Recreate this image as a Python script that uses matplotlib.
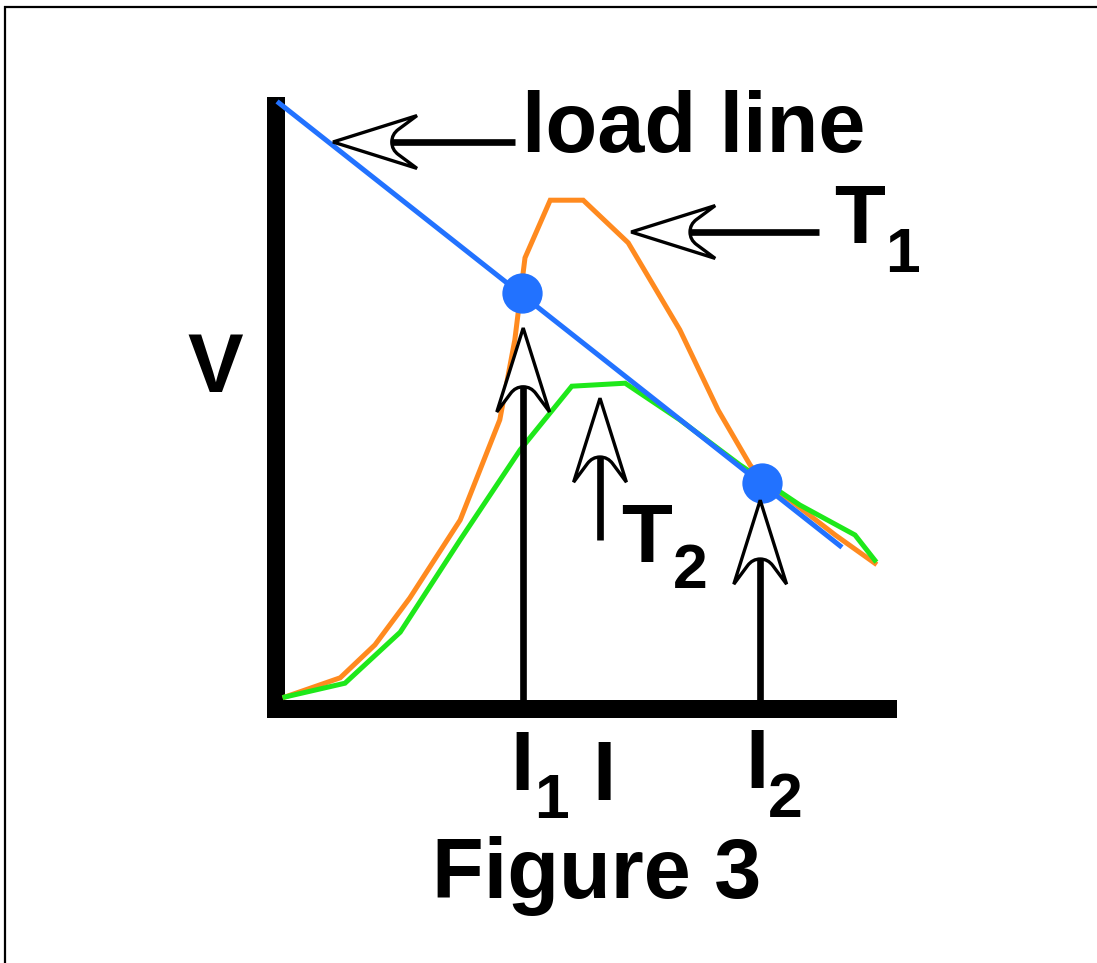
import numpy as np
import matplotlib
matplotlib.use("Agg")
import matplotlib.pyplot as plt
from matplotlib.path import Path
from matplotlib.patches import PathPatch, Rectangle

# ---- data (chart units: current I, voltage V) ----
I_T1 = [0.0, 0.92, 1.5, 2.08, 2.92, 3.58, 3.83, 4.0, 4.42, 4.97, 5.72, 6.58, 7.22, 7.75, 8.0, 8.42, 9.17, 9.83]
V_T1 = [0.05, 0.37, 0.92, 1.7, 3.0, 4.67, 6.0, 7.37, 8.33, 8.33, 7.62, 6.17, 4.83, 3.92, 3.58, 3.33, 2.75, 2.28]

I_T2 = [0.0, 1.0, 1.92, 2.92, 3.92, 4.78, 5.67, 6.58, 7.58, 8.58, 9.5, 9.83]
V_T2 = [0.05, 0.28, 1.13, 2.67, 4.17, 5.23, 5.28, 4.67, 3.92, 3.25, 2.75, 2.33]

I_load = [-0.1, 9.25]
V_load = [9.95, 2.57]

I_op = [3.95, 7.95]
V_op = [6.78, 3.62]

# annotation arrows: (tip_x, tip_y, tail_x, tail_y)
arrow_tips_x = [0.8, 5.77, 3.97, 5.25, 7.92]
arrow_tips_y = [9.3, 7.8, 6.2, 5.03, 3.33]
arrow_tails_x = [3.83, 8.9, 3.97, 5.25, 7.92]
arrow_tails_y = [9.3, 7.8, 0.0, 2.67, 0.0]

BLUE = "#2272ff"
ORANGE = "#ff8a1f"
GREEN = "#1ee81a"
FONT = "Liberation Sans"

fig = plt.figure(figsize=(10.97, 9.63), dpi=100)
ax = fig.add_axes([0, 0, 1, 1])
ax.set_xlim(-285 / 60, (1097 - 285) / 60)
ax.set_ylim(-263 / 60, 700 / 60)
ax.axis("off")

# page border (top and left)
ax.plot([-4.683, 13.6], [11.558, 11.558], color="black", lw=1.6, clip_on=False, solid_capstyle="butt")
ax.plot([-4.667, -4.667], [11.575, -4.5], color="black", lw=1.6, clip_on=False, solid_capstyle="butt")

# thick axes bars
ax.add_patch(Rectangle((-0.3, -0.3), 0.3, 10.35, color="black", lw=0))
ax.add_patch(Rectangle((-0.3, -0.3), 10.5, 0.3, color="black", lw=0))

# curves
ax.plot(I_T1, V_T1, color=ORANGE, lw=3.6, solid_joinstyle="miter", zorder=3)
ax.plot(I_T2, V_T2, color=GREEN, lw=3.6, solid_joinstyle="miter", zorder=3)
ax.plot(I_load, V_load, color=BLUE, lw=3.6, zorder=4)
ax.plot(I_op, V_op, "o", color=BLUE, ms=29, mew=0, zorder=5)

# open arrows
L, W, N = 1.4, 0.44, 0.98
def open_arrow(tx, ty, bx, by):
    d = np.array([bx - tx, by - ty], float)
    d /= np.hypot(*d)
    p = np.array([-d[1], d[0]])
    tip = np.array([tx, ty])
    def P(u, v):
        return tip + u * d + v * p
    notch = P(N, 0)
    ax.plot([notch[0], bx], [notch[1], by], color="black", lw=4.8,
            solid_capstyle="butt", zorder=6)
    verts = [P(0, 0), P(L, W), P(1.09, 0.21), P(N, 0.13), P(N, 0),
             P(N, -0.13), P(1.09, -0.21), P(L, -W), P(0, 0), P(0, 0)]
    codes = [Path.MOVETO, Path.LINETO, Path.LINETO, Path.CURVE3, Path.CURVE3,
             Path.CURVE3, Path.CURVE3, Path.LINETO, Path.LINETO, Path.CLOSEPOLY]
    ax.add_patch(PathPatch(Path(verts, codes), facecolor="white", edgecolor="black",
                           lw=2.4, joinstyle="miter", zorder=7))

for tx, ty, bx, by in zip(arrow_tips_x, arrow_tips_y, arrow_tails_x, arrow_tails_y):
    open_arrow(tx, ty, bx, by)

# texts
tk = dict(fontfamily=FONT, fontweight="bold", color="black", va="baseline", ha="left")
ax.text(3.95, 9.133, "load line", fontsize=61, **tk)
ax.text(9.15, 7.617, "T", fontsize=60, **tk)
ax.text(10.0, 7.133, "1", fontsize=45, **tk)
ax.text(5.6, 2.3, "T", fontsize=60, **tk)
ax.text(6.47, 1.867, "2", fontsize=45, **tk)
ax.text(-1.167, 5.133, "V", fontsize=60, fontfamily=FONT, fontweight="bold",
        va="baseline", ha="center")
ax.text(3.75, -1.5, "I", fontsize=60, **tk)
ax.text(4.15, -1.967, "1", fontsize=45, **tk)
ax.text(5.12, -1.667, "I", fontsize=60, **tk)
ax.text(7.67, -1.467, "I", fontsize=60, **tk)
ax.text(8.05, -1.95, "2", fontsize=45, **tk)
ax.text(2.45, -3.3, "Figure 3", fontsize=61, **tk)

fig.savefig("out.png", dpi=100)
